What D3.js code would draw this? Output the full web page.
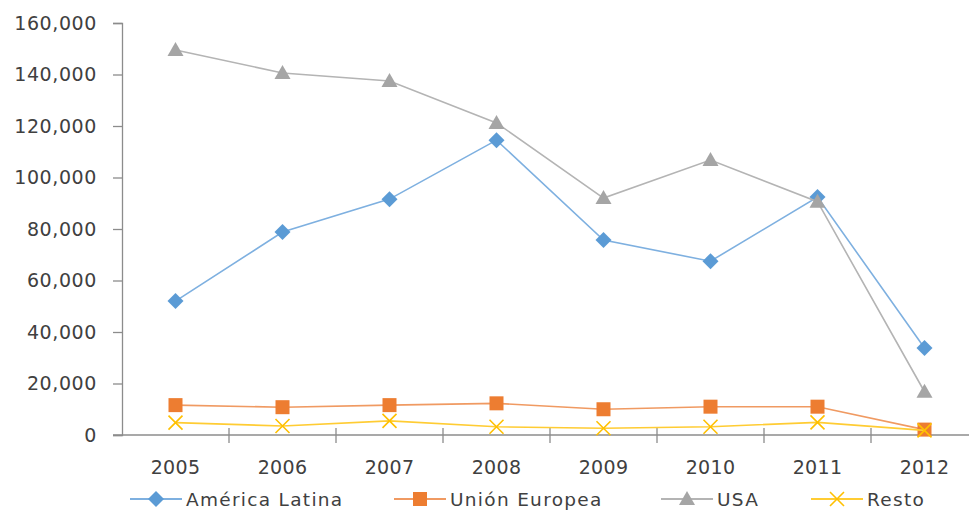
<!DOCTYPE html>
<html>
<head>
<meta charset="utf-8">
<script src="https://cdn.jsdelivr.net/npm/d3@7"></script>
<style>
  body { margin: 0; background: #fff; }
  text { font-family: "DejaVu Sans", sans-serif; fill: #404040; }
</style>
</head>
<body>
<div id="chart"></div>
<script>
// data
const years = ["2005", "2006", "2007", "2008", "2009", "2010", "2011", "2012"];
const americaLatina = [52000, 78800, 91600, 114500, 75700, 67500, 92400, 33800];
const unionEuropea = [11600, 10800, 11600, 12300, 10000, 11000, 11000, 2100];
const usa = [149500, 140600, 137500, 121200, 92000, 106800, 90600, 16800];
const resto = [4800, 3500, 5500, 3200, 2600, 3200, 4900, 1800];
const yTicks = [0, 20000, 40000, 60000, 80000, 100000, 120000, 140000, 160000];

const series = [
    { name: "América Latina", values: americaLatina, color: "#5B9BD5", line: "#7EB0E0", marker: "diamond" },
    { name: "Unión Europea", values: unionEuropea, color: "#ED7D31", line: "#F09A62", marker: "square" },
    { name: "USA", values: usa, color: "#A5A5A5", line: "#B4B4B4", marker: "triangle" },
    { name: "Resto", values: resto, color: "#FFC000", line: "#FFCC33", marker: "x" }
];

const width = 969, height = 512;
const svg = d3.select("#chart").append("svg").attr("width", width).attr("height", height);

const x = d3.scaleBand().domain(years).range([122, 978]);
const y = d3.scaleLinear().domain([0, 160000]).range([435, 23]);

// y axis
const yAxis = svg.append("g").attr("transform", "translate(122,0)")
    .call(d3.axisLeft(y).tickValues(yTicks).tickFormat(d3.format(",")).tickSize(9).tickPadding(16));
yAxis.select(".domain").attr("stroke", "#8c8c8c").attr("stroke-width", 1.3);
yAxis.selectAll(".tick line").attr("stroke", "#8c8c8c").attr("stroke-width", 1.3);
yAxis.selectAll("text").attr("font-size", 19).attr("letter-spacing", 0.6)
    .style("font-family", "DejaVu Sans").attr("fill", "#404040");

// x axis
const xAxis = svg.append("g").attr("transform", "translate(0,435)")
    .call(d3.axisBottom(x).tickSize(0).tickPadding(26));
xAxis.select(".domain").remove();
xAxis.selectAll("text").attr("font-size", 19).attr("letter-spacing", 0.3)
    .style("font-family", "DejaVu Sans").attr("fill", "#404040");
svg.append("line")
    .attr("x1", 113).attr("x2", width).attr("y1", y(0)).attr("y2", y(0))
    .attr("stroke", "#8c8c8c").attr("stroke-width", 1.3);
svg.selectAll(".xtick").data(years.slice(1).concat(["end"]))
    .enter().append("line").attr("class", "xtick")
    .attr("x1", (d, i) => x(years[i]) + x.bandwidth())
    .attr("x2", (d, i) => x(years[i]) + x.bandwidth())
    .attr("y1", y(0) - 7).attr("y2", y(0) + 8)
    .attr("stroke", "#8c8c8c").attr("stroke-width", 1.3);

const cx = d => x(d) + x.bandwidth() / 2;

function drawMarker(g, type, color) {
    if (type === "diamond") {
        g.append("path").attr("d", "M0,-8L8,0L0,8L-8,0Z").attr("fill", color);
    } else if (type === "square") {
        g.append("rect").attr("x", -7).attr("y", -7).attr("width", 14).attr("height", 14).attr("fill", color);
    } else if (type === "triangle") {
        g.append("path").attr("d", "M0,-8L8,6L-8,6Z").attr("fill", color);
    } else {
        g.append("path").attr("d", "M-7,-7L7,7M-7,7L7,-7").attr("stroke", color).attr("stroke-width", 1.6).attr("fill", "none");
    }
}

const line = d3.line().x((d, i) => cx(years[i])).y(d => y(d));

series.forEach(s => {
    svg.append("path").datum(s.values)
        .attr("d", line).attr("fill", "none")
        .attr("stroke", s.line).attr("stroke-width", 1.6);
    s.values.forEach((v, i) => {
        const g = svg.append("g").attr("transform", `translate(${cx(years[i])},${y(v)})`);
        drawMarker(g, s.marker, s.color);
    });
});

// legend
const legendX = [130, 394, 661, 811];
series.forEach((s, i) => {
    const g = svg.append("g").attr("transform", `translate(${legendX[i]},499)`);
    g.append("line").attr("x1", 0).attr("x2", 52).attr("stroke", s.line).attr("stroke-width", 1.8);
    const m = g.append("g").attr("transform", "translate(26,0)");
    drawMarker(m, s.marker, s.color);
    g.append("text").attr("x", 56).attr("y", 6.5).attr("font-size", 18.5).attr("letter-spacing", 1.3)
        .text(s.name);
});
</script>
</body>
</html>
